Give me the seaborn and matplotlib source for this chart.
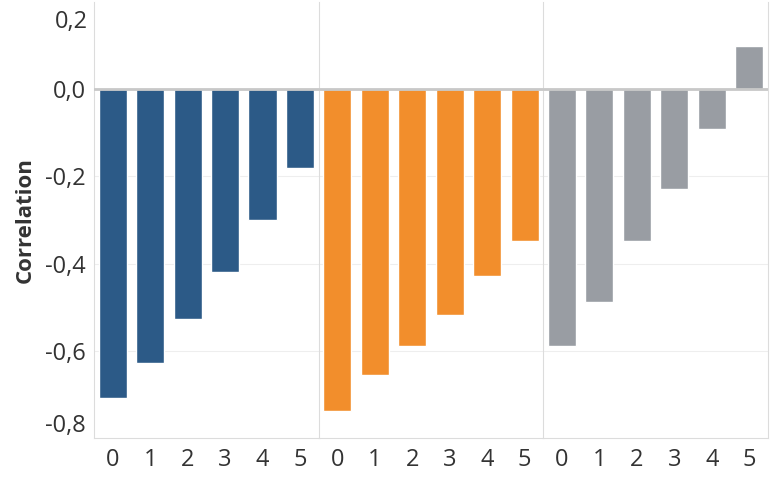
import numpy as np
import pandas as pd
import matplotlib
matplotlib.use("Agg")
import matplotlib.pyplot as plt
import seaborn as sns

# %%
# data
lags = ["0", "1", "2", "3", "4", "5"]
groups = ["A", "B", "C"]
corr_a = [-0.707, -0.627, -0.527, -0.419, -0.300, -0.180]
corr_b = [-0.737, -0.656, -0.588, -0.518, -0.429, -0.349]
corr_c = [-0.588, -0.487, -0.349, -0.230, -0.091, 0.098]
group_colors = ["#2c5a87", "#f28e2c", "#999da3"]

y_ticks = [0.2, 0.0, -0.2, -0.4, -0.6, -0.8]

df = pd.DataFrame({
    "group": np.repeat(groups, len(lags)),
    "lag": lags * len(groups),
    "corr": corr_a + corr_b + corr_c,
})

# %%
sns.set_style("white")
plt.rcParams["font.family"] = ["Open Sans", "DejaVu Sans"]
text_col = "#333333"
fs = 17

fig, axes = plt.subplots(1, 3, figsize=(7.71, 4.82), dpi=100, sharey=True)
fig.subplots_adjust(left=0.122, right=0.996, top=0.996, bottom=0.091, wspace=0)

for ax, g, col in zip(axes, groups, group_colors):
    sub = df[df["group"] == g]
    sns.barplot(data=sub, x="lag", y="corr", color=col, width=0.75,
                saturation=1, ax=ax, zorder=3)
    ax.set_xlim(-0.5, 5.5)
    ax.set_ylim(-0.795, 0.2)
    for yv in [-0.2, -0.4, -0.6]:
        ax.axhline(yv, color="#eeeeee", lw=0.8, zorder=0)
    ax.axhline(0, color="#c8c8c8", lw=2, zorder=4)
    ax.set_xlabel("")
    ax.set_ylabel("")
    for s in ["top", "right"]:
        ax.spines[s].set_visible(False)
    ax.spines["left"].set_color("#dcdcdc")
    ax.spines["bottom"].set_color("#dcdcdc")
    ax.tick_params(axis="x", length=0, labelsize=fs, labelcolor=text_col, pad=7)
    ax.tick_params(axis="y", length=0)

axes[2].spines["right"].set_visible(True)
axes[2].spines["right"].set_color("#dcdcdc")

ax0 = axes[0]
ax0.set_yticks(y_ticks)
tick_txt = [f"{v:.1f}".replace(".", ",") for v in y_ticks]
# top label is pushed down inside the plot, like the original
ax0.set_yticklabels([""] + tick_txt[1:])
ax0.tick_params(axis="y", labelsize=fs, labelcolor=text_col, pad=6)
ax0.annotate(tick_txt[0], xy=(0, y_ticks[0]),
             xycoords=ax0.get_yaxis_transform(),
             xytext=(-6, -20), textcoords="offset pixels",
             ha="right", va="center", fontsize=fs, color=text_col)
ylabs = ax0.get_yticklabels()
ylabs[-1].set_va("bottom")
ax0.set_ylabel("Correlation", fontsize=16, fontweight="bold", color=text_col, labelpad=7)

fig.savefig("out.png", dpi=100)
